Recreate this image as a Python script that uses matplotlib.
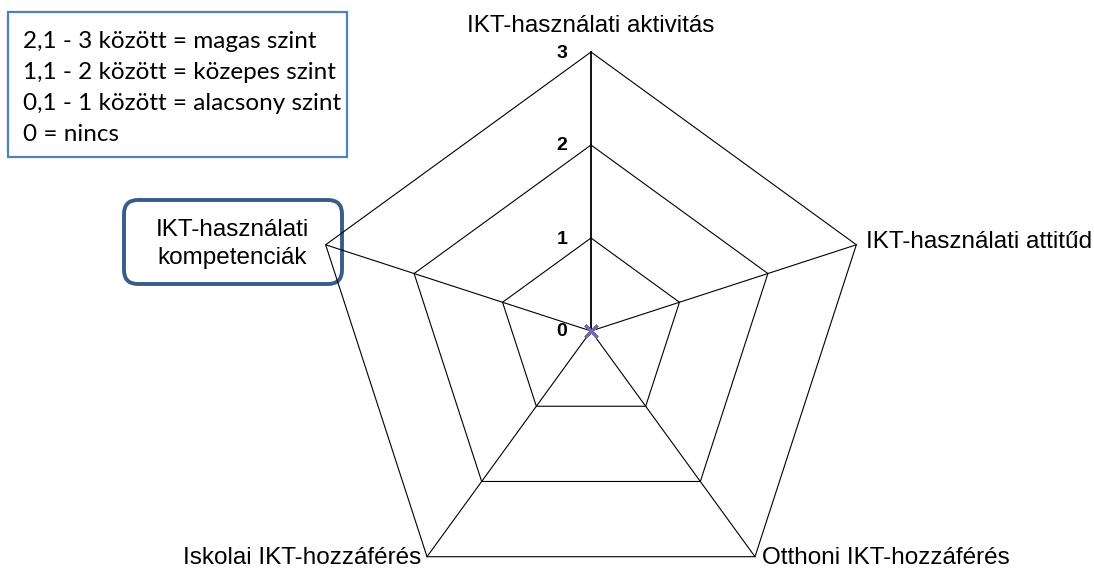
import numpy as np
import matplotlib.pyplot as plt
from matplotlib.patches import FancyBboxPatch, Rectangle

# radar categories (clockwise from top) and values
categories = ["IKT-használati aktivitás", "IKT-használati attitűd",
              "Otthoni IKT-hozzáférés", "Iskolai IKT-hozzáférés",
              "IKT-használati\nkompetenciák"]
values = [0, 0, 0, 0, 0]
levels = [0, 1, 2, 3]
legend_lines = ["2,1 - 3 között = magas szint",
                "1,1 - 2 között = közepes szint",
                "0,1 - 1 között = alacsony szint",
                "0 = nincs"]

fig = plt.figure(figsize=(10.94, 5.74), dpi=100)
ax = fig.add_axes([0, 0, 1, 1])
ax.set_xlim(0, 1094)
ax.set_ylim(574, 0)
ax.axis("off")

cx, cy = 591, 331
scale = 279 / max(levels)
n = len(categories)
ang = np.pi / 2 - np.arange(n) * 2 * np.pi / n

def to_px(r, a):
    return cx + r * scale * np.cos(a), cy - r * scale * np.sin(a)

# grid polygons
for lv in levels[1:]:
    xs, ys = to_px(lv, np.append(ang, ang[0]))
    ax.plot(xs, ys, color="black", lw=0.8)

# spokes
for i, a in enumerate(ang):
    x1, y1 = to_px(levels[-1], a)
    ax.plot([cx, x1], [cy, y1], color="black", lw=1.3 if i == 0 else 0.8)

# value axis labels
for lv in levels:
    x, y = to_px(lv, np.pi / 2)
    ax.text(x - 29, y + 1, str(lv), fontsize=14, fontweight="bold",
            family="Liberation Sans", ha="center", va="center")

# data series
xs, ys = to_px(np.array(values), ang)
ax.plot(np.append(xs, xs[0]), np.append(ys, ys[0]), color="#6B6BA8", lw=1.5,
        marker="x", ms=9, mew=2, zorder=5)

# category labels
lab_font = dict(fontsize=17.5, family="Liberation Sans")
ax.text(cx, 26, categories[0], ha="center", va="center", **lab_font)
ax.text(866, 242, categories[1], ha="left", va="center", **lab_font)
ax.text(762, 558, categories[2], ha="left", va="center", **lab_font)
ax.text(421, 558, categories[3], ha="right", va="center", **lab_font)
ax.text(232, 244, categories[4], ha="center", va="center",
        linespacing=1.3, **lab_font)

# highlight box around left label
ax.add_patch(FancyBboxPatch((124, 200), 218, 84,
                            boxstyle="round,pad=0,rounding_size=14",
                            fill=False, ec="#385D8A", lw=2.8))

# legend box
ax.add_patch(Rectangle((8, 12), 339, 145, fill=False, ec="#4F81BD", lw=1.6))
for i, line in enumerate(legend_lines):
    ax.text(23, 42 + i * 30.7, line, fontsize=17.5, family="Lato",
            ha="left", va="center")

fig.savefig("out.png", dpi=100)
